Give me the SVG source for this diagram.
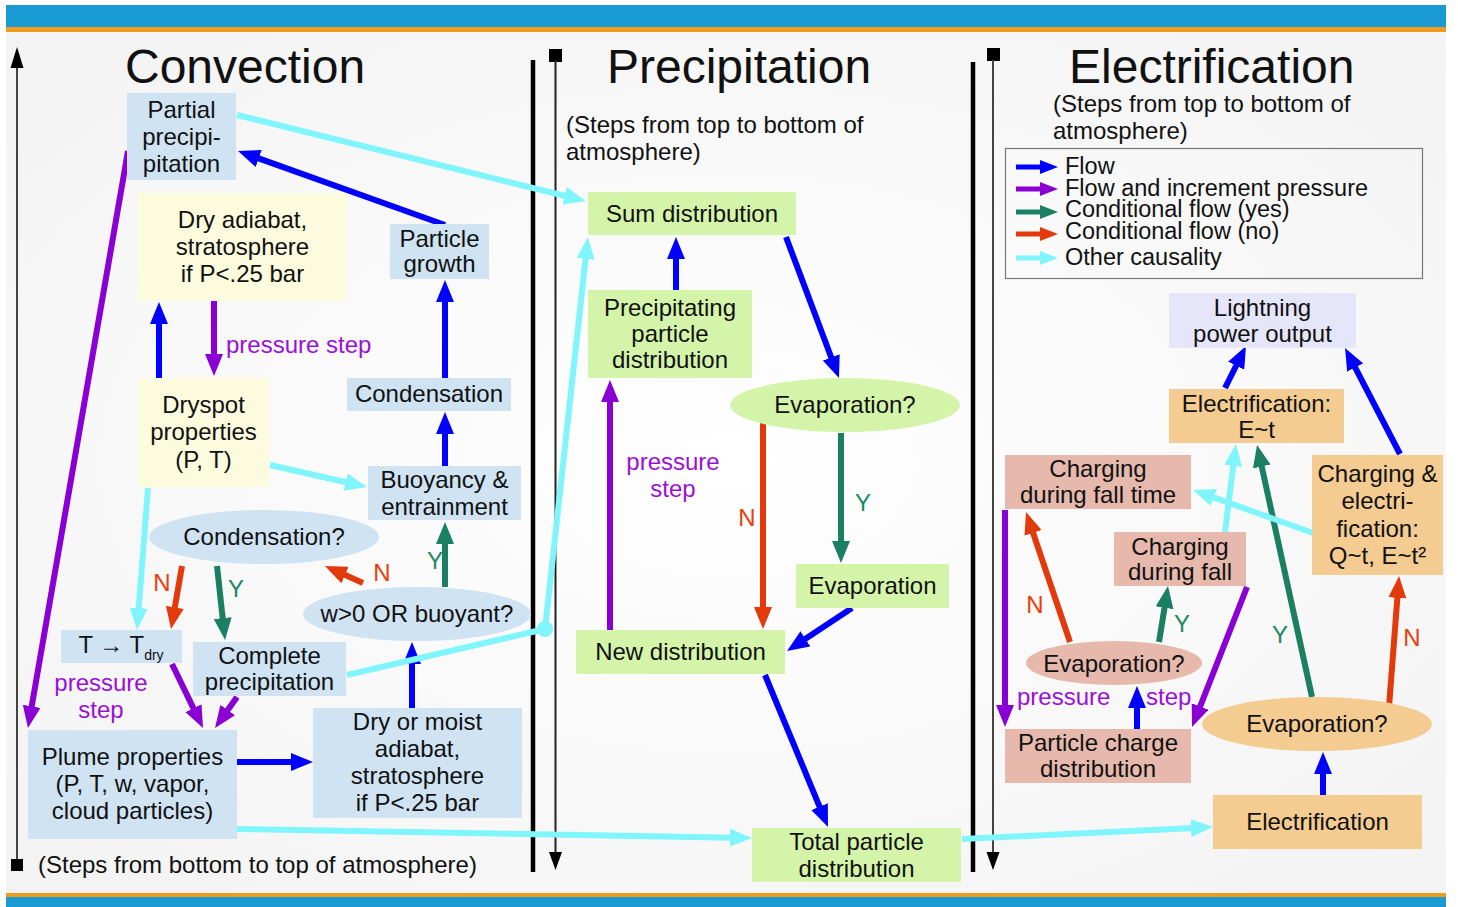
<svg xmlns="http://www.w3.org/2000/svg" width="1458" height="907" viewBox="0 0 1458 907">
<defs>
<radialGradient id="bg" cx="0.5" cy="0.5" r="0.75">
<stop offset="0" stop-color="#ffffff"/>
<stop offset="1" stop-color="#f2f2f2"/>
</radialGradient>
<marker id="mb" markerUnits="userSpaceOnUse" markerWidth="22" markerHeight="18" refX="3" refY="9" orient="auto"><path d="M0,0 L22,9 L0,18 z" fill="#0000ff"/></marker>
<marker id="mp" markerUnits="userSpaceOnUse" markerWidth="22" markerHeight="18" refX="3" refY="9" orient="auto"><path d="M0,0 L22,9 L0,18 z" fill="#8a00d4"/></marker>
<marker id="mg" markerUnits="userSpaceOnUse" markerWidth="22" markerHeight="18" refX="3" refY="9" orient="auto"><path d="M0,0 L22,9 L0,18 z" fill="#1b7f64"/></marker>
<marker id="mr" markerUnits="userSpaceOnUse" markerWidth="22" markerHeight="18" refX="3" refY="9" orient="auto"><path d="M0,0 L22,9 L0,18 z" fill="#e33a0c"/></marker>
<marker id="mc" markerUnits="userSpaceOnUse" markerWidth="22" markerHeight="18" refX="3" refY="9" orient="auto"><path d="M0,0 L22,9 L0,18 z" fill="#80f5fc"/></marker>
</defs>
<style>
text{font-family:"Liberation Sans",Arial,sans-serif;fill:#111;}
.t{font-size:24px;text-anchor:middle;}
.title{font-size:48px;}
.sub{font-size:24px;}
.leg{font-size:23.5px;}
.lp{font-size:24px;fill:#9a10d8;}
.ln{font-size:24px;fill:#e8400c;}
.ly{font-size:24px;fill:#1e8866;}
.nb{fill:#cfe3f3;}
.ny{fill:#fdfbdd;}
.ng{fill:#d4f5a9;}
.npk{fill:#e6b9ac;}
.nor{fill:#f4cb91;}
.nlv{fill:#e6e6fa;}
.b{stroke:#0000ff;stroke-width:6;fill:none;marker-end:url(#mb);}
.p{stroke:#8a00d4;stroke-width:6;fill:none;marker-end:url(#mp);}
.g{stroke:#1b7f64;stroke-width:6;fill:none;marker-end:url(#mg);}
.r{stroke:#e33a0c;stroke-width:6;fill:none;marker-end:url(#mr);}
.c{stroke:#80f5fc;stroke-width:6;fill:none;marker-end:url(#mc);}
.cn{stroke:#80f5fc;stroke-width:6;fill:none;}
</style>

<rect x="0" y="0" width="1458" height="907" fill="#ffffff"/>
<rect x="6" y="32" width="1440" height="861" fill="url(#bg)"/>
<rect x="6" y="5" width="1440" height="22" fill="#1a9ad2"/>
<rect x="6" y="27" width="1440" height="5" fill="#f29a1c"/>
<rect x="6" y="893" width="1440" height="4" fill="#f29a1c"/>
<rect x="6" y="897" width="1440" height="10" fill="#1a9ad2"/>

<g id="frame">
<line x1="17" y1="66" x2="17" y2="865" stroke="#444" stroke-width="2"/>
<polygon points="17,47 10.5,68 23.5,68" fill="#000"/>
<rect x="11" y="859" width="12" height="12" fill="#000"/>
<line x1="533" y1="60" x2="533" y2="872" stroke="#000" stroke-width="4.5"/>
<line x1="973" y1="62" x2="973" y2="872" stroke="#000" stroke-width="4.5"/>
<rect x="549" y="49" width="13" height="13" fill="#000"/>
<line x1="555.5" y1="60" x2="555.5" y2="854" stroke="#222" stroke-width="2"/>
<polygon points="549,852 562,852 555.5,870" fill="#000"/>
<rect x="987" y="48" width="13" height="13" fill="#000"/>
<line x1="993" y1="60" x2="993" y2="854" stroke="#444" stroke-width="2"/>
<polygon points="986.5,852 999.5,852 993,870" fill="#000"/>
</g>

<g id="titles">
<text class="title" x="125" y="83">Convection</text>
<text class="title" x="607" y="83">Precipitation</text>
<text class="title" x="1069" y="83">Electrification</text>
<text class="sub" x="566" y="133">(Steps from top to bottom of</text>
<text class="sub" x="566" y="160">atmosphere)</text>
<text class="sub" x="1053" y="112">(Steps from top to bottom of</text>
<text class="sub" x="1053" y="139">atmosphere)</text>
<text class="sub" x="38" y="873">(Steps from bottom to top of atmosphere)</text>
</g>

<g id="legend">
<rect x="1005.5" y="148.5" width="417" height="130" fill="none" stroke="#777" stroke-width="1.2"/>
<line x1="1016" y1="167" x2="1042" y2="167" stroke="#0000ff" stroke-width="5"/>
<polygon points="1040,160 1058,167 1040,174" fill="#0000ff"/>
<line x1="1016" y1="189" x2="1042" y2="189" stroke="#8a00d4" stroke-width="5"/>
<polygon points="1040,182 1058,189 1040,196" fill="#8a00d4"/>
<line x1="1016" y1="212" x2="1042" y2="212" stroke="#1b7f64" stroke-width="5"/>
<polygon points="1040,205 1058,212 1040,219" fill="#1b7f64"/>
<line x1="1016" y1="234" x2="1042" y2="234" stroke="#e33a0c" stroke-width="5"/>
<polygon points="1040,227 1058,234 1040,241" fill="#e33a0c"/>
<line x1="1016" y1="258" x2="1042" y2="258" stroke="#80f5fc" stroke-width="5"/>
<polygon points="1040,251 1058,258 1040,265" fill="#80f5fc"/>
<text class="leg" x="1065" y="174">Flow</text>
<text class="leg" x="1065" y="196">Flow and increment pressure</text>
<text class="leg" x="1065" y="217">Conditional flow (yes)</text>
<text class="leg" x="1065" y="239">Conditional flow (no)</text>
<text class="leg" x="1065" y="265">Other causality</text>
</g>

<g id="connectors">
<line class="p" x1="128" y1="151" x2="31.2" y2="709.3"/>
<line class="b" x1="445" y1="225" x2="255.9" y2="157.4"/>
<line class="c" x1="237" y1="115" x2="567.5" y2="196.5"/>
<line class="b" x1="159" y1="378" x2="159" y2="321"/>
<line class="p" x1="214" y1="301" x2="214" y2="357"/>
<line class="b" x1="445" y1="378" x2="445" y2="299"/>
<line class="b" x1="445" y1="466" x2="445" y2="431"/>
<line class="c" x1="270" y1="465" x2="348.5" y2="482.8"/>
<line class="c" x1="148" y1="488" x2="138.5" y2="611.1"/>
<line class="r" x1="182" y1="566" x2="174.3" y2="610.3"/>
<line class="g" x1="217" y1="566" x2="223" y2="621.1"/>
<line class="r" x1="363" y1="583" x2="342.3" y2="573.8"/>
<line class="g" x1="445" y1="587" x2="445" y2="541"/>
<line class="b" x1="412" y1="708" x2="412" y2="661"/>
<line class="p" x1="172" y1="664" x2="194.7" y2="710.9"/>
<line class="p" x1="237" y1="697" x2="226" y2="712.5"/>
<line class="b" x1="237" y1="762" x2="294" y2="762"/>
<line class="c" x1="237" y1="829" x2="733" y2="837.7"/>
<line class="cn" x1="347" y1="675" x2="545" y2="629"/>
<circle cx="545" cy="629" r="8" fill="#80f5fc"/>
<line class="c" x1="545" y1="629" x2="585.9" y2="255.9"/>
<line class="b" x1="676" y1="290" x2="676" y2="256"/>
<line class="b" x1="786" y1="237" x2="832.3" y2="360.2"/>
<line class="p" x1="610" y1="630" x2="610" y2="399"/>
<line class="r" x1="763" y1="423" x2="763" y2="610"/>
<line class="g" x1="841" y1="433" x2="841" y2="544"/>
<line class="b" x1="852" y1="608" x2="802.9" y2="640.5"/>
<line class="b" x1="765" y1="675" x2="820.7" y2="809.4"/>
<line class="c" x1="962" y1="839" x2="1194" y2="827.9"/>
<line class="b" x1="1225" y1="388" x2="1237.5" y2="363"/>
<line class="b" x1="1400" y1="454" x2="1353.8" y2="364.9"/>
<line class="c" x1="1225" y1="532" x2="1233.6" y2="462.9"/>
<line class="g" x1="1312" y1="697" x2="1261.1" y2="463.6"/>
<line class="c" x1="1313" y1="533" x2="1210.9" y2="496.4"/>
<line class="r" x1="1070" y1="642" x2="1032.1" y2="530"/>
<line class="g" x1="1159" y1="642" x2="1165" y2="604.8"/>
<line class="p" x1="1247" y1="587" x2="1199" y2="709.3"/>
<line class="p" x1="1005" y1="510" x2="1005" y2="708"/>
<line class="b" x1="1137" y1="729" x2="1137" y2="705"/>
<line class="r" x1="1389" y1="707" x2="1397.6" y2="594.9"/>
<line class="b" x1="1323" y1="795" x2="1323" y2="771"/>
</g>

<g id="labels">
<text class="lp" x="226" y="353">pressure step</text>
<text class="lp" x="101" y="691" text-anchor="middle">pressure</text>
<text class="lp" x="101" y="718" text-anchor="middle">step</text>
<text class="ln" x="162" y="591" text-anchor="middle">N</text>
<text class="ly" x="236" y="597" text-anchor="middle">Y</text>
<text class="ln" x="382" y="581" text-anchor="middle">N</text>
<text class="ly" x="435" y="569" text-anchor="middle">Y</text>
<text class="lp" x="673" y="470" text-anchor="middle">pressure</text>
<text class="lp" x="673" y="497" text-anchor="middle">step</text>
<text class="ln" x="747" y="526" text-anchor="middle">N</text>
<text class="ly" x="863" y="511" text-anchor="middle">Y</text>
<text class="ln" x="1035" y="613" text-anchor="middle">N</text>
<text class="ly" x="1182" y="632" text-anchor="middle">Y</text>
<text class="ly" x="1280" y="643" text-anchor="middle">Y</text>
<text class="ln" x="1412" y="646" text-anchor="middle">N</text>
<text class="lp" x="1017" y="705">pressure</text>
<text class="lp" x="1146" y="705">step</text>
</g>

<g id="partial-precipitation">
<rect class="nb" x="127" y="93" width="109" height="87"/>
<text class="t"><tspan x="181.5" y="118">Partial</tspan><tspan x="181.5" y="145">precipi-</tspan><tspan x="181.5" y="172">pitation</tspan></text>
</g>
<g id="dry-adiabat">
<rect class="ny" x="138" y="193" width="209" height="108"/>
<text class="t"><tspan x="242.5" y="228">Dry adiabat,</tspan><tspan x="242.5" y="255">stratosphere</tspan><tspan x="242.5" y="282">if P&lt;.25 bar</tspan></text>
</g>
<g id="particle-growth">
<rect class="nb" x="390" y="224" width="99" height="55"/>
<text class="t"><tspan x="439.5" y="247">Particle</tspan><tspan x="439.5" y="272">growth</tspan></text>
</g>
<g id="condensation">
<rect class="nb" x="347" y="378" width="164" height="33"/>
<text class="t" x="429" y="402">Condensation</text>
</g>
<g id="dryspot">
<rect class="ny" x="138" y="378" width="131" height="109"/>
<text class="t"><tspan x="203.5" y="413">Dryspot</tspan><tspan x="203.5" y="440">properties</tspan><tspan x="203.5" y="468">(P, T)</tspan></text>
</g>
<g id="buoyancy">
<rect class="nb" x="368" y="466" width="153" height="54"/>
<text class="t"><tspan x="444.5" y="488">Buoyancy &amp;</tspan><tspan x="444.5" y="515">entrainment</tspan></text>
</g>
<g id="condensation-q">
<ellipse class="nb" cx="264" cy="537" rx="115" ry="27"/>
<text class="t" x="264" y="545">Condensation?</text>
</g>
<g id="w-buoyant">
<ellipse class="nb" cx="417" cy="614" rx="114" ry="27"/>
<text class="t" x="417" y="622">w&gt;0 OR buoyant?</text>
</g>
<g id="t-tdry">
<rect class="nb" x="61" y="630" width="121" height="33"/>
<text class="t" x="121" y="653">T → T<tspan font-size="14" dy="7">dry</tspan></text>
</g>
<g id="complete-precipitation">
<rect class="nb" x="193" y="642" width="153" height="54"/>
<text class="t"><tspan x="269.5" y="664">Complete</tspan><tspan x="269.5" y="690">precipitation</tspan></text>
</g>
<g id="plume-properties">
<rect class="nb" x="28" y="730" width="209" height="109"/>
<text class="t"><tspan x="132.5" y="765">Plume properties</tspan><tspan x="132.5" y="792">(P, T, w, vapor,</tspan><tspan x="132.5" y="819">cloud particles)</tspan></text>
</g>
<g id="dry-moist-adiabat">
<rect class="nb" x="313" y="708" width="209" height="110"/>
<text class="t"><tspan x="417.5" y="730">Dry or moist</tspan><tspan x="417.5" y="757">adiabat,</tspan><tspan x="417.5" y="784">stratosphere</tspan><tspan x="417.5" y="811">if P&lt;.25 bar</tspan></text>
</g>

<g id="sum-distribution">
<rect class="ng" x="588" y="192" width="208" height="43"/>
<text class="t" x="692" y="222">Sum distribution</text>
</g>
<g id="precipitating-particle">
<rect class="ng" x="588" y="290" width="164" height="88"/>
<text class="t"><tspan x="670" y="316">Precipitating</tspan><tspan x="670" y="342">particle</tspan><tspan x="670" y="368">distribution</tspan></text>
</g>
<g id="evaporation-q-precip">
<ellipse class="ng" cx="845" cy="405" rx="115" ry="27"/>
<text class="t" x="845" y="413">Evaporation?</text>
</g>
<g id="evaporation">
<rect class="ng" x="796" y="564" width="153" height="44"/>
<text class="t" x="872.5" y="594">Evaporation</text>
</g>
<g id="new-distribution">
<rect class="ng" x="576" y="630" width="209" height="44"/>
<text class="t" x="680.5" y="660">New distribution</text>
</g>
<g id="total-particle">
<rect class="ng" x="752" y="828" width="209" height="54"/>
<text class="t"><tspan x="856.5" y="850">Total particle</tspan><tspan x="856.5" y="877">distribution</tspan></text>
</g>

<g id="lightning">
<rect class="nlv" x="1169" y="293" width="187" height="55"/>
<text class="t"><tspan x="1262.5" y="316">Lightning</tspan><tspan x="1262.5" y="342">power output</tspan></text>
</g>
<g id="electrification-et">
<rect class="nor" x="1169" y="389" width="175" height="54"/>
<text class="t"><tspan x="1256.5" y="412">Electrification:</tspan><tspan x="1256.5" y="438">E~t</tspan></text>
</g>
<g id="charging-fall-time">
<rect class="npk" x="1005" y="455" width="186" height="54"/>
<text class="t"><tspan x="1098" y="477">Charging</tspan><tspan x="1098" y="503">during fall time</tspan></text>
</g>
<g id="charging-electrification">
<rect class="nor" x="1312" y="455" width="131" height="120"/>
<text class="t"><tspan x="1377.5" y="482">Charging &amp;</tspan><tspan x="1377.5" y="509">electri-</tspan><tspan x="1377.5" y="537">fication:</tspan><tspan x="1377.5" y="564">Q~t, E~t²</tspan></text>
</g>
<g id="charging-fall">
<rect class="npk" x="1114" y="532" width="132" height="54"/>
<text class="t"><tspan x="1180" y="555">Charging</tspan><tspan x="1180" y="580">during fall</tspan></text>
</g>
<g id="evaporation-q-small">
<ellipse class="npk" cx="1114" cy="663" rx="88" ry="22"/>
<text class="t" x="1114" y="672">Evaporation?</text>
</g>
<g id="particle-charge">
<rect class="npk" x="1005" y="729" width="186" height="54"/>
<text class="t"><tspan x="1098" y="751">Particle charge</tspan><tspan x="1098" y="777">distribution</tspan></text>
</g>
<g id="evaporation-q-elec">
<ellipse class="nor" cx="1317" cy="724" rx="115" ry="27"/>
<text class="t" x="1317" y="732">Evaporation?</text>
</g>
<g id="electrification">
<rect class="nor" x="1213" y="795" width="209" height="54"/>
<text class="t" x="1317.5" y="830">Electrification</text>
</g>
</svg>
